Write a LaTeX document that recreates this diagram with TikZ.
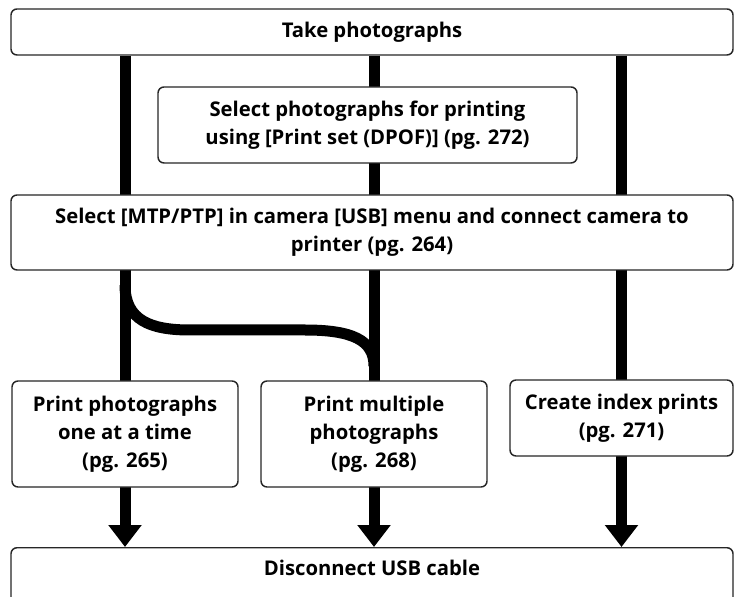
\documentclass[tikz,border=0pt]{standalone}
\usepackage{fontspec}
\setmainfont{Open Sans}
\usepackage{tikz}
\usetikzlibrary{arrows.meta, positioning, calc, backgrounds}
\tikzset{
    stepbox/.style={rectangle, rounded corners=4.5pt, draw=black!85, line width=1.1pt, fill=white, align=center, font=\fontsize{15.2}{21}\selectfont\bfseries, inner sep=2pt},
    bar/.style={line width=8.25pt, black},
    bararrow/.style={bar, -{Triangle[width=24pt, length=16.5pt]}}
}

\begin{document}
\begin{tikzpicture}[x=0.75pt, y=0.75pt]
        \useasboundingbox (0,0) rectangle (734,596);

        % Boxes
        \node (take) [stepbox, minimum width=541.5pt, minimum height=34.5pt] at (372, 564) {Take photographs};
        \node (dpof) [stepbox, minimum width=314.25pt, minimum height=57pt] at (367.5, 471) {Select photographs for printing\\using [Print set (DPOF)] (pg. 272)};
        \node (mtp) [stepbox, minimum width=541.5pt, minimum height=56.25pt] at (372, 363.5) {Select [MTP/PTP] in camera [USB] menu and connect camera to\\printer (pg. 264)};
        \node (one) [stepbox, minimum width=169.5pt, minimum height=79.5pt] at (125, 162) {Print photographs\\one at a time\\(pg. 265)};
        \node (multi) [stepbox, minimum width=169.5pt, minimum height=79.5pt] at (374, 162) {Print multiple\\photographs\\(pg. 268)};
        \node (index) [stepbox, minimum width=167.25pt, minimum height=57pt] at (621.5, 178) {Create index prints\\(pg. 271)};
        \node (disc) [stepbox, minimum width=541.5pt, anchor=north, inner ysep=9pt, text depth=40pt] at (372, 49) {Disconnect USB cable};

        % Branch from left line into middle line
        \coordinate (split) at (125, 311);
        \coordinate (join) at (374, 230);

        % Thick lines behind the boxes
        \begin{pgfonlayer}{background}
            \draw[bararrow] (one.center |- take.south) -- (one.center |- disc.north);
            \draw[bararrow] (multi.center |- take.south) -- (multi.center |- disc.north);
            \draw[bararrow] (index.center |- take.south) -- (index.center |- disc.north);
            \draw[bar] (split) .. controls (125, 276) and (150, 266) .. (190, 266) -- (305, 266) .. controls (352, 266) and (374, 256) .. (join);
        \end{pgfonlayer}
    \end{tikzpicture}
\end{document}
